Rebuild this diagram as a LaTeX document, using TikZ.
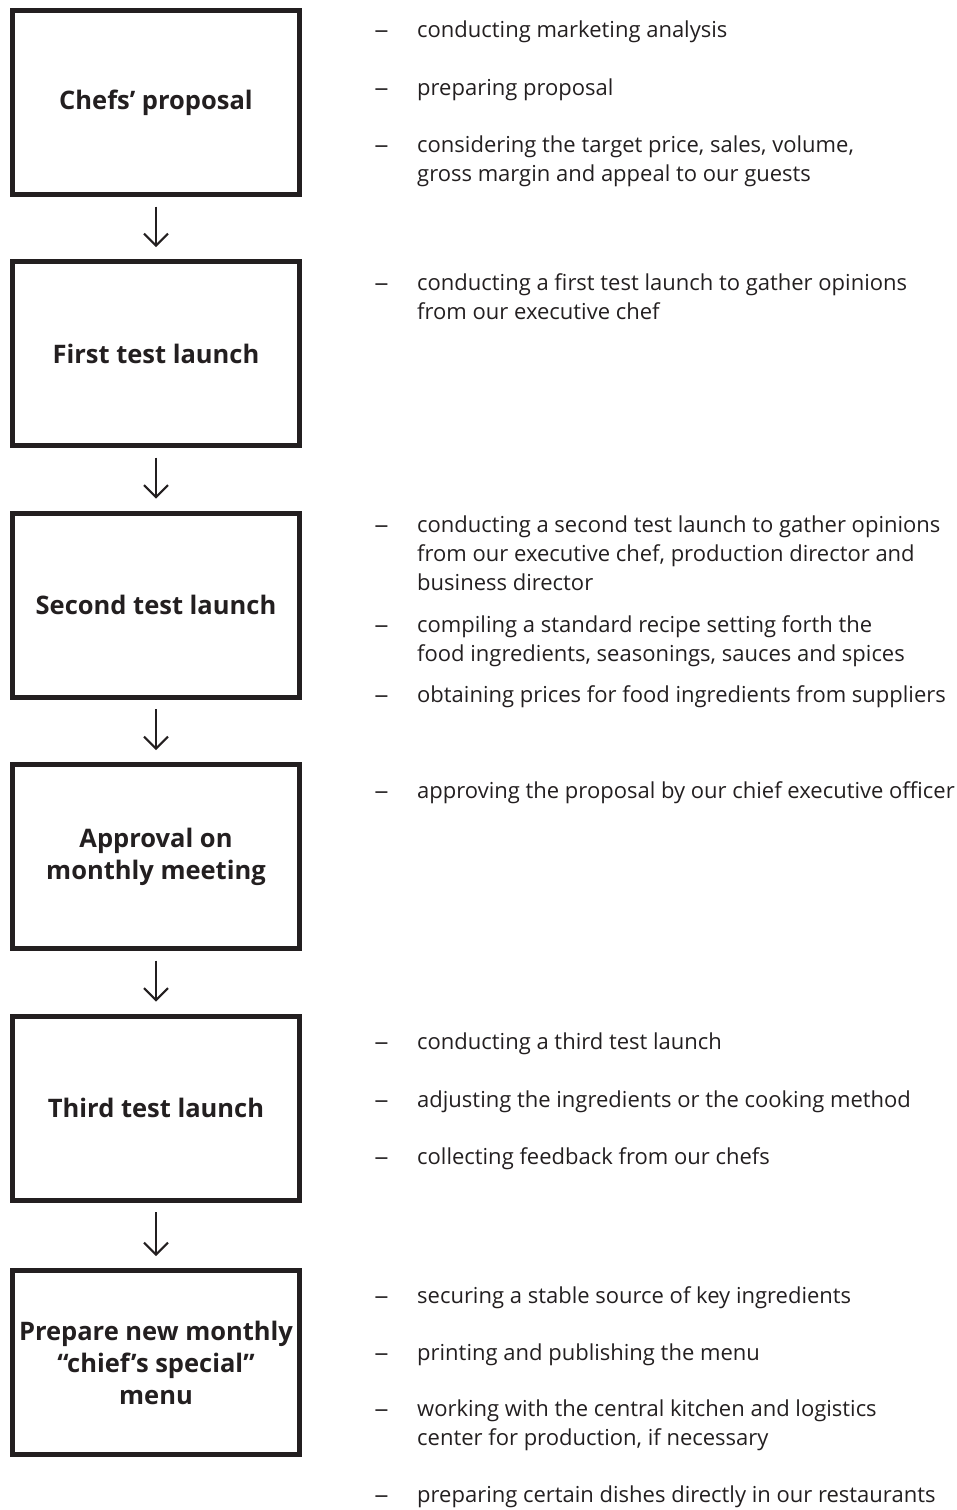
\documentclass[tikz,border=0pt]{standalone}
\usepackage{fontspec}
\setmainfont{Open Sans}
\usetikzlibrary{arrows.meta}
\definecolor{ink}{HTML}{231F20}
\tikzset{
  stepbox/.style={draw=ink, line width=5pt, minimum width=287pt, minimum height=184pt,
    align=center, text=ink, font=\fontsize{25.5}{32}\selectfont\bfseries, inner sep=0pt},
  flow/.style={draw=ink, line width=2pt, -{Straight Barb[length=12pt,width=24pt]},
    shorten <=9.5pt, shorten >=12pt},
  dashmark/.style={anchor=base west, text=ink, font=\fontsize{22}{29}\selectfont, inner sep=0pt, xscale=1.3},
  itemtext/.style={anchor=base west, text=ink, font=\fontsize{22}{29}\selectfont, inner sep=0pt}
}
\begin{document}
\begin{tikzpicture}[x=1pt,y=-1pt]
\useasboundingbox (0,0) rectangle (957,1510);
\node[stepbox] (b1) at (156,102.5) {Chefs’ proposal};
\node[stepbox] (b2) at (156,353.5) {First test launch};
\node[stepbox] (b3) at (156,605) {Second test launch};
\node[stepbox] (b4) at (156,856.5) {Approval on\\monthly meeting};
\node[stepbox] (b5) at (156,1108) {Third test launch};
\node[stepbox] (b6) at (156,1362.5) {Prepare new monthly\\“chief’s special”\\menu};
\draw[flow] (b1) -- (b2);
\draw[flow] (b2) -- (b3);
\draw[flow] (b3) -- (b4);
\draw[flow] (b4) -- (b5);
\draw[flow] (b5) -- (b6);
% box 1
\node[dashmark] (d11) at (374,37) {–};
\node[itemtext] (t11) at (417,37) {conducting marketing analysis};
\node[dashmark] (d12) at (374,95) {–};
\node[itemtext] (t12) at (417,95) {preparing proposal};
\node[dashmark] (d13) at (374,152) {–};
\node[itemtext] (t13a) at (417,152) {considering the target price, sales, volume,};
\node[itemtext] (t13b) at (417,181) {gross margin and appeal to our guests};
% box 2
\node[dashmark] (d21) at (374,290) {–};
\node[itemtext] (t21a) at (417,290) {conducting a first test launch to gather opinions};
\node[itemtext] (t21b) at (417,319) {from our executive chef};
% box 3
\node[dashmark] (d31) at (374,532) {–};
\node[itemtext] (t31a) at (417,532) {conducting a second test launch to gather opinions};
\node[itemtext] (t31b) at (417,561) {from our executive chef, production director and};
\node[itemtext] (t31c) at (417,590) {business director};
\node[dashmark] (d32) at (374,632) {–};
\node[itemtext] (t32a) at (417,632) {compiling a standard recipe setting forth the};
\node[itemtext] (t32b) at (417,661) {food ingredients, seasonings, sauces and spices};
\node[dashmark] (d33) at (374,702) {–};
\node[itemtext] (t33) at (417,702) {obtaining prices for food ingredients from suppliers};
% box 4
\node[dashmark] (d41) at (374,798) {–};
\node[itemtext] (t41) at (417,798) {approving the proposal by our chief executive officer};
% box 5
\node[dashmark] (d51) at (374,1049) {–};
\node[itemtext] (t51) at (417,1049) {conducting a third test launch};
\node[dashmark] (d52) at (374,1107) {–};
\node[itemtext] (t52) at (417,1107) {adjusting the ingredients or the cooking method};
\node[dashmark] (d53) at (374,1164) {–};
\node[itemtext] (t53) at (417,1164) {collecting feedback from our chefs};
% box 6
\node[dashmark] (d61) at (374,1303) {–};
\node[itemtext] (t61) at (417,1303) {securing a stable source of key ingredients};
\node[dashmark] (d62) at (374,1360) {–};
\node[itemtext] (t62) at (417,1360) {printing and publishing the menu};
\node[dashmark] (d63) at (374,1416) {–};
\node[itemtext] (t63a) at (417,1416) {working with the central kitchen and logistics};
\node[itemtext] (t63b) at (417,1445) {center for production, if necessary};
\node[dashmark] (d64) at (374,1502) {–};
\node[itemtext] (t64) at (417,1502) {preparing certain dishes directly in our restaurants};
\end{tikzpicture}
\end{document}
